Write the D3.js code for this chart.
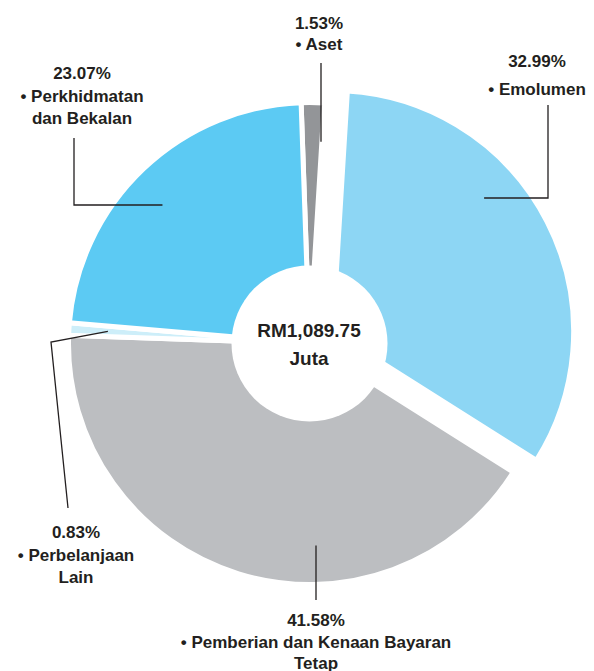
<!DOCTYPE html>
<html>
<head>
<meta charset="utf-8">
<script src="https://cdn.jsdelivr.net/npm/d3@7"></script>
<style>
  body { margin: 0; background: #fff; }
  text { font-family: "Liberation Sans", Arial, sans-serif; font-weight: bold; fill: #231f20; }
</style>
</head>
<body>
<script>
// values (percent of total spending)
const categories = ["Aset", "Emolumen", "Pemberian dan Kenaan Bayaran Tetap", "Perbelanjaan Lain", "Perkhidmatan dan Bekalan"];
const shares = [1.53, 32.99, 41.58, 0.83, 23.07];
const nameLines = [["Aset"], ["Emolumen"], ["Pemberian dan Kenaan Bayaran", "Tetap"], ["Perbelanjaan", "Lain"], ["Perkhidmatan", "dan Bekalan"]];
const totalLines = ["RM1,089.75", "Juta"];
const pulledOut = ["Emolumen"];

let colours = ["#939598", "#8dd6f4", "#bcbec1", "#cdeef9", "#5ccaf3"];
let colourScale = d3.scaleOrdinal().domain(categories).range(colours);

// set dimensions of graphic
let width = 594;
let height = 671;
let cx = 309.5, cy = 343.5;
let outerR = 241, holeR = 78, hookR = 202, pull = 26;

// where each label sits and how its leader runs (label end first)
let labelLayout = {
  "Aset": { x: 319, y: 29, gap: 21, elbows: [[321, 63]], leg: "x" },
  "Emolumen": { x: 537, y: 67, gap: 28, elbows: [[548, 105], [548, 198]], leg: "y" },
  "Pemberian dan Kenaan Bayaran Tetap": { x: 316, y: 626, gap: 21.5, elbows: [[316, 600]], leg: "x" },
  "Perbelanjaan Lain": { x: 76, y: 538, gap: 22.5, elbows: [[68, 508], [51, 342]], leg: "c" },
  "Perkhidmatan dan Bekalan": { x: 82, y: 79, gap: 22.5, elbows: [[74, 138], [74, 205]], leg: "y" }
};

let rows = categories.map((c, i) => ({ name: c, share: shares[i], lines: nameLines[i] }));

let pie = d3.pie()
  .sort(null)
  .value(d => d.share)
  .startAngle(-2 * Math.PI / 180)
  .endAngle(358 * Math.PI / 180);

let arc = d3.arc().innerRadius(0).outerRadius(outerR);
let arcs = pie(rows);

function offset(d) {
  if (pulledOut.indexOf(d.data.name) < 0) return [0, 0];
  let mid = (d.startAngle + d.endAngle) / 2;
  return [pull * Math.sin(mid), -pull * Math.cos(mid)];
}

// point where the leader meets the slice
function hook(d, lay) {
  let off = offset(d);
  let ox = cx + off[0], oy = cy + off[1];
  let mid = (d.startAngle + d.endAngle) / 2;
  let last = lay.elbows[lay.elbows.length - 1];
  if (lay.leg === "x") {
    let dx = last[0] - ox;
    let dy = Math.sqrt(hookR * hookR - dx * dx);
    return [last[0], oy - Math.sign(Math.cos(mid)) * dy];
  }
  if (lay.leg === "y") {
    let dy = last[1] - oy;
    let dx = Math.sqrt(hookR * hookR - dy * dy);
    return [ox + Math.sign(Math.sin(mid)) * dx, last[1]];
  }
  return [ox + hookR * Math.sin(mid), oy - hookR * Math.cos(mid)];
}

let svg = d3.select("body").append("svg")
  .attr("width", width)
  .attr("height", height);

let chart = svg.append("g").attr("transform", "translate(" + cx + "," + cy + ")");

chart.selectAll("path.slice")
  .data(arcs)
  .join("path")
  .attr("class", "slice")
  .attr("transform", d => "translate(" + offset(d) + ")")
  .attr("d", arc)
  .attr("fill", d => colourScale(d.data.name))
  .attr("stroke", "#fff")
  .attr("stroke-width", 5)
  .attr("stroke-linejoin", "miter");

// white hole in the middle
chart.append("circle")
  .attr("r", holeR)
  .attr("fill", "#fff");

chart.selectAll("text.total")
  .data(totalLines)
  .join("text")
  .attr("class", "total")
  .attr("text-anchor", "middle")
  .attr("x", -0.5)
  .attr("y", (d, i) => -6.5 + i * 28)
  .style("font-size", "19px")
  .text(d => d);

// leader lines
let line = d3.line();
svg.selectAll("path.leader")
  .data(arcs)
  .join("path")
  .attr("class", "leader")
  .attr("d", d => {
    let lay = labelLayout[d.data.name];
    return line(lay.elbows.concat([hook(d, lay)]));
  })
  .attr("fill", "none")
  .attr("stroke", "#231f20")
  .attr("stroke-width", 1.3);

// labels
let fmt = d3.format(".2f");
let labels = svg.selectAll("g.label")
  .data(arcs)
  .join("g")
  .attr("class", "label");

labels.each(function(d) {
  let lay = labelLayout[d.data.name];
  let lines = [fmt(d.data.share) + "%", "\u2022 " + d.data.lines[0]].concat(d.data.lines.slice(1));
  d3.select(this).selectAll("text")
    .data(lines)
    .join("text")
    .attr("text-anchor", "middle")
    .attr("x", lay.x)
    .attr("y", (t, i) => lay.y + i * lay.gap)
    .style("font-size", "17px")
    .text(t => t);
});
</script>
</body>
</html>
